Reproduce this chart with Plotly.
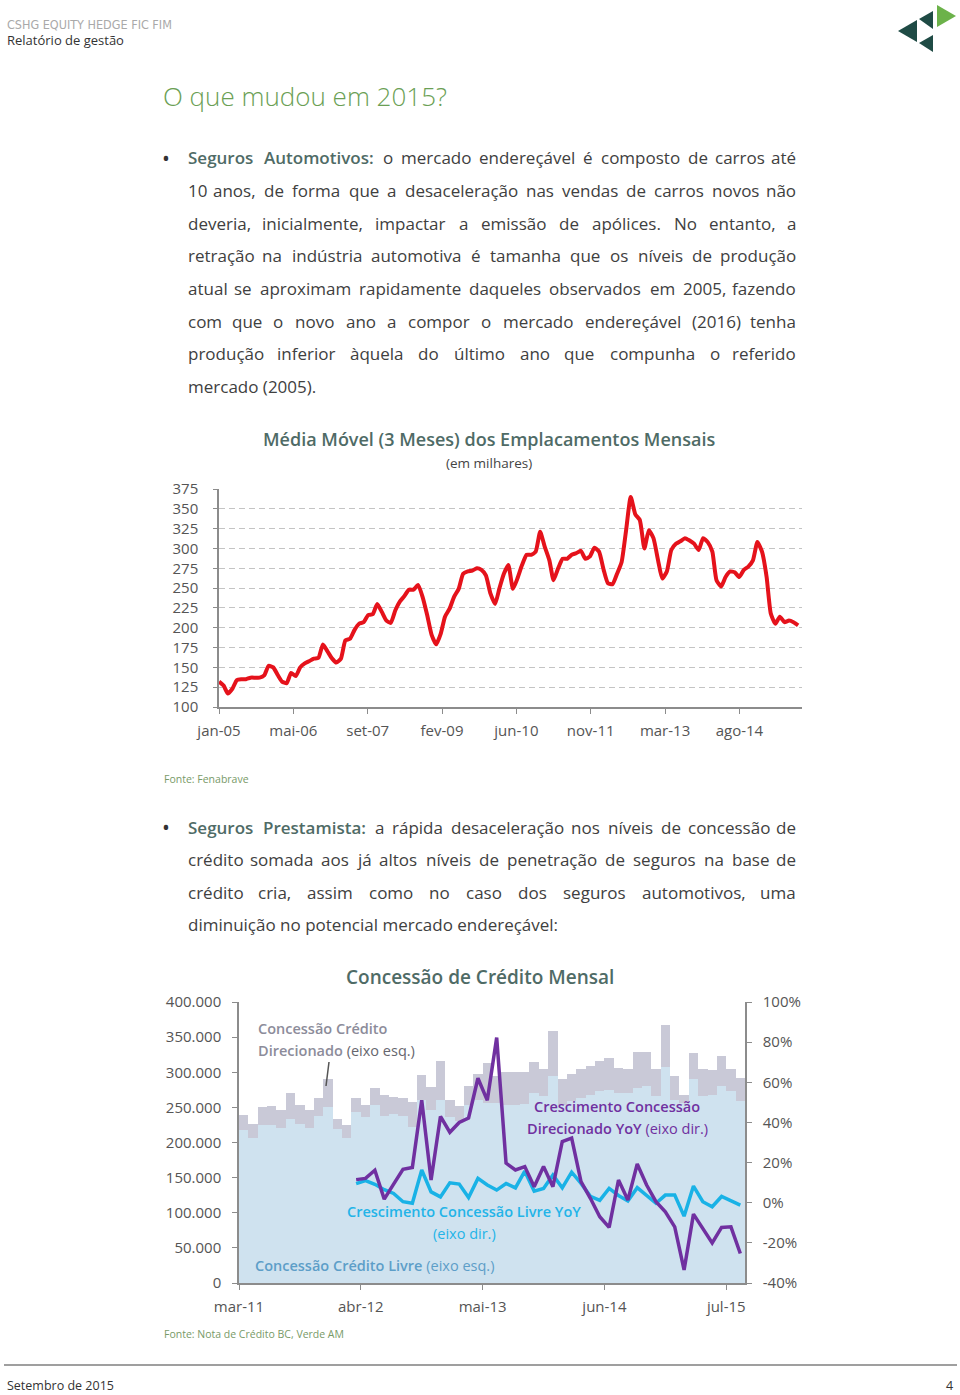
import unicodedata
import pandas as pd
import plotly.graph_objects as go

W, H = 960, 1395


def px(x):
    return x / W


def py(y):
    return 1 - y / H


FONT = "Open Sans"
TXT = "#404040"
HEAD = "#4f6b66"

# ---------------- Chart 1 data: média móvel 3m emplacamentos (mil) ----------------
emplac_vals = [
    132, 127, 117, 123, 134, 135, 135, 137, 137, 137,
    140, 152, 150, 140, 132, 130, 143, 139, 150, 155,
    158, 161, 162, 179, 170, 161, 156, 161, 184, 186,
    197, 205, 207, 216, 217, 230, 220, 209, 206, 222,
    233, 240, 248, 248, 254, 239, 216, 191, 179, 193,
    214, 224, 239, 249, 268, 271, 272, 275, 273, 266,
    243, 230, 249, 268, 279, 249, 262, 279, 292, 292,
    296, 321, 302, 285, 260, 275, 287, 287, 292, 294,
    297, 287, 290, 301, 296, 273, 256, 255, 268, 283,
    323, 365, 343, 336, 300, 323, 313, 285, 262, 271,
    298, 306, 309, 313, 310, 306, 298, 313, 308, 296,
    260, 252, 264, 271, 270, 264, 273, 277, 285, 308,
    296, 264, 218, 205, 214, 207, 209, 207, 203,
]
emplac_start = "2005-01-01"
emplac_tick_labels = ["jan-05", "mai-06", "set-07", "fev-09", "jun-10", "nov-11", "mar-13", "ago-14"]
emplac_yticks = [100, 125, 150, 175, 200, 225, 250, 275, 300, 325, 350, 375]

# ---------------- Chart 2 data: concessão de crédito mensal ----------------
cred_start = "2011-03-01"
livre_vals = [
    218, 206, 225, 225, 220, 234, 226, 220, 238, 251,
    219, 206, 243, 237, 253, 238, 240, 238, 222, 260,
    246, 260, 237, 230, 253, 260, 256, 256, 254, 254,
    255, 270, 266, 295, 254, 259, 263, 268, 273, 275,
    270, 270, 278, 280, 266, 308, 261, 256, 290, 266,
    267, 280, 273, 259,
]
direc_vals = [
    21, 21, 25, 27, 26, 37, 28, 26, 26, 40,
    15, 19, 20, 17, 24, 29, 25, 26, 36, 36,
    33, 56, 24, 22, 27, 38, 57, 38, 46, 47,
    45, 44, 39, 64, 36, 38, 42, 41, 43, 45,
    36, 35, 51, 49, 39, 59, 34, 11, 37, 39,
    36, 43, 31, 33,
]
yoy_first_index = 12  # YoY series start one year after first bar (mar-12)
dir_yoy = [
    11.5, 12.1, 16.2, 1.8, 9.3, 16.6, 17.5, 51.1, 11.3, 43.0,
    35.1, 40.0, 42.2, 62.0, 51.0, 82.3, 19.7, 16.3, 18.0, 8.0,
    18.0, 8.0, 30.5, 32.2, 10.5, 2.2, -7.0, -12.3, 11.3, 1.3,
    19.3, 8.8, 0.5, -4.5, -12.0, -33.5, -5.7, -12.8, -20.0, -12.3,
    -12.0, -25.3,
]
livre_yoy = [
    9.5, 11.0, 9.2, 6.5, 4.6, 0.5, -0.3, 16.3, 5.4, 2.9,
    9.9, 9.3, 2.6, 12.1, 8.8, 6.3, 9.6, 7.4, 15.7, 5.8,
    7.1, 13.8, 7.4, 15.2, 9.6, 3.2, 1.2, 7.1, 3.6, 0.9,
    7.5, 3.4, -0.3, 3.8, 3.8, -6.7, 8.3, 0.5, -2.0, 3.1,
    0.9, -1.2,
]
cred_tick_every = 13
left_ticks = [0, 50000, 100000, 150000, 200000, 250000, 300000, 350000, 400000]
right_ticks = [-40, -20, 0, 20, 40, 60, 80, 100]
right_ticktext = [f"{v}%" for v in right_ticks]

MESES = ["jan", "fev", "mar", "abr", "mai", "jun", "jul", "ago", "set", "out", "nov", "dez"]

# ---------------- derived positions ----------------
emplac_x = pd.date_range(emplac_start, periods=len(emplac_vals), freq="MS")
emplac_tick_dates = [pd.Timestamp(emplac_start) + pd.Timedelta(days=500 * k)
                     for k in range(len(emplac_tick_labels))]

cred_dates = pd.date_range(cred_start, periods=len(livre_vals), freq="MS")
cred_labels = [f"{MESES[d.month - 1]}-{d.year % 100:02d}" for d in cred_dates]
bar_x = [i + 0.5 for i in range(len(livre_vals))]
yoy_x = [yoy_first_index + i + 0.5 for i in range(len(dir_yoy))]
cred_tickvals = list(range(0, len(livre_vals), cred_tick_every))
cred_ticktext = [cred_labels[i] for i in cred_tickvals]

fig = go.Figure()

fig.add_trace(go.Scatter(
    x=emplac_x, y=emplac_vals, mode="lines", xaxis="x", yaxis="y",
    line=dict(color="#e5121b", width=4, shape="spline", smoothing=0.5),
    showlegend=False, hoverinfo="skip"))

fig.add_trace(go.Bar(
    x=bar_x, y=[v * 1000 for v in livre_vals], width=1, xaxis="x2", yaxis="y2",
    marker=dict(color="#cfe2ef", line=dict(width=0)), showlegend=False, hoverinfo="skip"))
fig.add_trace(go.Bar(
    x=bar_x, y=[v * 1000 for v in direc_vals], width=1, xaxis="x2", yaxis="y2",
    marker=dict(color="#c9c9d7", line=dict(width=0)), showlegend=False, hoverinfo="skip"))
fig.add_trace(go.Scatter(
    x=yoy_x, y=livre_yoy, mode="lines", xaxis="x2", yaxis="y3",
    line=dict(color="#19b2e6", width=3.5), showlegend=False, hoverinfo="skip"))
fig.add_trace(go.Scatter(
    x=yoy_x, y=dir_yoy, mode="lines", xaxis="x2", yaxis="y3",
    line=dict(color="#7030a0", width=3.5), showlegend=False, hoverinfo="skip"))

AX = "#8c8c8c"
TICKF = dict(family=FONT, size=15, color="#555555")

fig.update_layout(
    width=W, height=H, margin=dict(l=0, r=0, t=0, b=0, autoexpand=False),
    paper_bgcolor="white", plot_bgcolor="rgba(0,0,0,0)",
    separators=",.", barmode="stack", bargap=0, showlegend=False,
    xaxis=dict(domain=[px(219), px(801.7)], anchor="y", type="date",
               range=[emplac_start, "2015-09-25"],
               tickvals=emplac_tick_dates, ticktext=emplac_tick_labels,
               showline=True, linecolor=AX, linewidth=1.5, ticks="outside",
               ticklen=5, tickcolor=AX, showgrid=False, zeroline=False,
               tickfont=TICKF, ticklabelstandoff=4),
    yaxis=dict(domain=[py(707), py(489)], anchor="x", range=[100, 375],
               tickvals=emplac_yticks, showline=True, linecolor=AX, linewidth=1.5,
               ticks="outside", ticklen=4, tickcolor=AX, showgrid=True,
               gridcolor="#c4c4c4", griddash="6px,4px", gridwidth=1.2,
               zeroline=False, tickfont=TICKF, ticklabelstandoff=12),
    xaxis2=dict(domain=[px(239), px(745)], anchor="y2", range=[0, len(livre_vals)],
                tickvals=cred_tickvals, ticktext=cred_ticktext,
                showline=True, linecolor=AX, linewidth=1.5, ticks="outside",
                ticklen=5, tickcolor=AX, showgrid=False, zeroline=False,
                tickfont=TICKF, ticklabelstandoff=4),
    yaxis2=dict(domain=[py(1283), py(1002)], anchor="x2", range=[0, 400000],
                tickvals=left_ticks, tickformat=",d", showline=True, linecolor=AX,
                linewidth=1.5, ticks="outside", ticklen=5, tickcolor=AX,
                showgrid=False, zeroline=False, tickfont=TICKF, ticklabelstandoff=8),
    yaxis3=dict(overlaying="y2", side="right", anchor="x2", range=[-40, 100],
                tickvals=right_ticks, ticktext=right_ticktext, showline=True, linecolor=AX,
                linewidth=1.5, ticks="outside", ticklen=5, tickcolor=AX,
                showgrid=False, zeroline=False, tickfont=TICKF, ticklabelstandoff=8),
)

ann = []
shapes = []


def text(x, y, s, size=17, color=TXT, xanchor="left", family=FONT, weight=None):
    f = dict(family=family, size=size, color=color)
    if weight:
        f["weight"] = weight
    ann.append(dict(x=px(x), y=py(y), xref="paper", yref="paper", text=s,
                    showarrow=False, xanchor=xanchor, yanchor="middle", font=f,
                    align=xanchor if xanchor != "center" else "center"))


# ---- width table (em) for justification ----
CW = {" ": .26, "a": .556, "b": .613, "c": .476, "d": .613, "e": .561, "f": .339,
      "g": .548, "h": .614, "i": .253, "j": .253, "k": .525, "l": .253, "m": .930,
      "n": .614, "o": .604, "p": .613, "q": .613, "r": .408, "s": .477, "t": .353,
      "u": .614, "v": .501, "w": .778, "x": .524, "y": .502, "z": .477, ".": .266,
      ",": .25, ":": .266, "-": .322, "(": .292, ")": .292, "S": .547, "A": .633,
      "P": .603, "N": .767}
for dgt in "0123456789":
    CW[dgt] = .572


def tw(s, size, bold=False):
    w = 0
    for ch in s:
        base = unicodedata.normalize("NFD", ch)[0]
        w += CW.get(base, .58)
    return w * size * (1.07 if bold else 1.0)


def styled(word, bold):
    if bold:
        return f"<span style='font-weight:600;color:{HEAD}'>{word}</span>"
    return word


def para_line(line, y, justify, nbold=0, x0=186, x1=798, size=17):
    words = line.split(" ")
    if not justify:
        s = " ".join(styled(w, i < nbold) for i, w in enumerate(words))
        text(x0, y, s, size=size)
        return
    widths = [tw(w, size, i < nbold) for i, w in enumerate(words)]
    gap = (x1 - x0 - sum(widths)) / (len(words) - 1)
    cur = x0
    for i, w in enumerate(words):
        s = styled(w, i < nbold)
        if i == 0:
            text(cur, y, s, size=size, xanchor="left")
        elif i == len(words) - 1:
            text(x1, y, s, size=size, xanchor="right")
        else:
            text(cur + widths[i] / 2, y, s, size=size, xanchor="center")
        cur += widths[i] + gap


# ---- header ----
text(5, 25, "CSHG EQUITY HEDGE FIC FIM", size=12.5, color="#a9a9a9", family="DejaVu Sans Condensed")
text(5, 40, "Relatório de gestão", size=13, color="#333333")
# logo
logo = [
    ("M 898 31 L 917 20 L 917 42 Z", "#1f4b45"),
    ("M 919 19 L 933 11 L 933 29 Z", "#1f4b45"),
    ("M 919 43 L 933 35 L 933 52 Z", "#1f4b45"),
    ("M 937 5 L 956 16 L 937 27 Z", "#6cb24a"),
]
for path, col in logo:
    pts = path.split()
    out = []
    i = 0
    while i < len(pts):
        if pts[i] in ("M", "L"):
            out.append(f"{pts[i]} {px(float(pts[i+1])):.5f} {py(float(pts[i+2])):.5f}")
            i += 3
        else:
            out.append(pts[i])
            i += 1
    shapes.append(dict(type="path", xref="paper", yref="paper", path=" ".join(out),
                       fillcolor=col, line=dict(width=0)))

# ---- title ----
text(161, 96, "O que mudou em 2015?", size=26, color="#6b9f55", weight=300)

# ---- paragraph 1 ----
p1 = [
    "Seguros Automotivos: o mercado endereçável é composto de carros até",
    "10 anos, de forma que a desaceleração nas vendas de carros novos não",
    "deveria, inicialmente, impactar a emissão de apólices. No entanto, a",
    "retração na indústria automotiva é tamanha que os níveis de produção",
    "atual se aproximam rapidamente daqueles observados em 2005, fazendo",
    "com que o novo ano a compor o mercado endereçável (2016) tenha",
    "produção inferior àquela do último ano que compunha o referido",
    "mercado (2005).",
]
y0 = 158
for k, ln in enumerate(p1):
    para_line(ln, y0 + k * 32.6, justify=k < len(p1) - 1, nbold=2 if k == 0 else 0)
text(166, y0, "•", size=21, color="#333333", xanchor="center")

# ---- chart 1 titles ----
text(489, 439, "Média Móvel (3 Meses) dos Emplacamentos Mensais", size=18, color=HEAD,
     xanchor="center", weight=600)
text(489, 463, "(em milhares)", size=13.5, color="#444444", xanchor="center")
text(162, 779, "Fonte: Fenabrave", size=10.5, color="#789a68")

# ---- paragraph 2 ----
p2 = [
    "Seguros Prestamista: a rápida desaceleração nos níveis de concessão de",
    "crédito somada aos já altos níveis de penetração de seguros na base de",
    "crédito cria, assim como no caso dos seguros automotivos, uma",
    "diminuição no potencial mercado endereçável:",
]
y1 = 827
for k, ln in enumerate(p2):
    para_line(ln, y1 + k * 32.5, justify=k < len(p2) - 1, nbold=2 if k == 0 else 0)
text(166, y1, "•", size=21, color="#333333", xanchor="center")

# ---- chart 2 titles and labels ----
text(480, 977, "Concessão de Crédito Mensal", size=19, color=HEAD, xanchor="center", weight=600)
SB = "font-weight:600"
text(256, 1028, f"<span style='{SB}'>Concessão Crédito</span>", size=14.5, color="#8c8c9a")
text(256, 1050, f"<span style='{SB}'>Direcionado</span> <span style='color:#66666e'>(eixo esq.)</span>",
     size=14.5, color="#8c8c9a")
shapes.append(dict(type="line", xref="paper", yref="paper", x0=px(329), y0=py(1062),
                   x1=px(326), y1=py(1086), line=dict(color="#555555", width=1.5)))
text(617, 1106, f"<span style='{SB}'>Crescimento Concessão</span>", size=14.5,
     color="#7030a0", xanchor="center")
text(617, 1128, f"<span style='{SB}'>Direcionado YoY</span> (eixo dir.)", size=14.5,
     color="#7030a0", xanchor="center")
text(464, 1211, f"<span style='{SB}'>Crescimento Concessão Livre YoY</span>", size=14.5,
     color="#23b4e8", xanchor="center")
text(464, 1233, "(eixo dir.)", size=14.5, color="#23b4e8", xanchor="center")
text(253, 1265, f"<span style='{SB}'>Concessão Crédito Livre</span> (eixo esq.)", size=14.5,
     color="#5d9ec8")
text(162, 1334, "Fonte: Nota de Crédito BC, Verde AM", size=10.5, color="#789a68")

# ---- footer ----
shapes.append(dict(type="line", xref="paper", yref="paper", x0=px(4), x1=px(957),
                   y0=py(1365), y1=py(1365), line=dict(color="#7f7f7f", width=1.5)))
text(5, 1385, "Setembro de 2015", size=12.5, color="#333333")
text(955, 1385, "4", size=12.5, color="#333333", xanchor="right")

fig.update_layout(annotations=ann, shapes=shapes)
fig.write_html("out.html")
